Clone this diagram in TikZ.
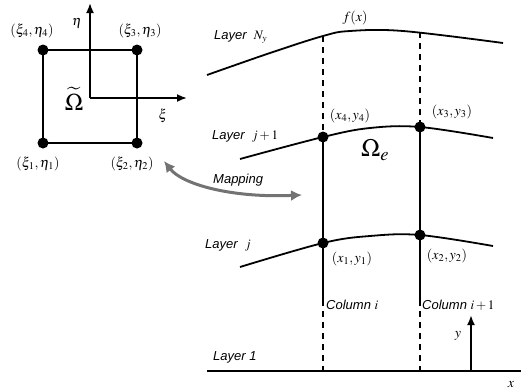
\documentclass[tikz,border=0pt]{standalone}
\usepackage{mathptmx}
\usepackage{fontspec}
\setsansfont{Liberation Sans}
\usetikzlibrary{arrows.meta}
\begin{document}
\begin{tikzpicture}[x=1pt,y=-1pt,
  curve/.style={line width=1.8pt},
  sq/.style={line width=1.4pt},
  dot/.style={circle,fill=black,inner sep=0pt,minimum size=11pt},
  lab/.style={font=\sffamily\itshape\fontsize{13}{13}\selectfont,inner sep=0pt,anchor=west},
  mlab/.style={font=\fontsize{14}{14}\selectfont,inner sep=0pt},
  axis/.style={line width=1.8pt,-{Latex[length=10pt,width=8pt]}},
  coldash/.style={line width=1.4pt,dash pattern=on 6pt off 5pt},
  colsolid/.style={line width=1.4pt}]
\useasboundingbox (0,0) rectangle (529,391);
% ---------- reference element ----------
\node[dot] (p1) at (43,143) {};
\node[dot] (p2) at (137,143) {};
\node[dot] (p3) at (137,50) {};
\node[dot] (p4) at (43,50) {};
\draw[sq] (p1.center) -- (p2.center) -- (p3.center) -- (p4.center) -- cycle;
\coordinate (o) at (90,98);
\coordinate (etaend) at (90,3);
\coordinate (xiend) at (187,98);
\draw[axis] (o) -- (etaend);
\draw[axis] (o) -- (xiend);
\node[mlab] (eta) at (77,23) {$\eta$};
\node[mlab] (xi) at (163,116) {$\xi$};
\node[font=\fontsize{24}{24}\selectfont,inner sep=0pt] (omt) at (74,99) {$\widetilde{\Omega}$};
\node[mlab] (l4) at (32,31) {$(\xi_4,\eta_4)$};
\node[mlab] (l3) at (140,31) {$(\xi_3,\eta_3)$};
\node[mlab] (l1) at (38,164) {$(\xi_1,\eta_1)$};
\node[mlab] (l2) at (132,164) {$(\xi_2,\eta_2)$};
% ---------- physical domain ----------
\draw[curve] plot[smooth,tension=0.6] coordinates {(207,75) (270,53) (323,36) (350,31) (403,31) (503,43)};
\draw[curve] plot[smooth,tension=0.6] coordinates {(240,159) (323,137) (370,128) (420,127) (493,138)};
\draw[curve] plot[smooth,tension=0.6] coordinates {(240,267) (323,243) (370,236) (420,235) (493,246)};
\coordinate (b0) at (207,371);
\coordinate (b1) at (521,371);
\draw[line width=1.8pt] (b0) -- (b1);
\node[dot] (q4) at (323,137) {};
\node[dot] (q3) at (420,127) {};
\node[dot] (q1) at (323,243) {};
\node[dot] (q2) at (420,235) {};
\coordinate (t1) at (323,36);
\coordinate (t2) at (420,32);
\coordinate (s1) at (323,300);
\coordinate (s2) at (420,300);
\coordinate (e1) at (323,371);
\coordinate (e2) at (420,371);
\draw[coldash] (t1) -- (q4.center);
\draw[coldash] (t2) -- (q3.center);
\draw[colsolid] (q4.center) -- (q1.center) -- (s1);
\draw[colsolid] (q3.center) -- (q2.center) -- (s2);
\draw[coldash] (s1) -- (e1);
\draw[coldash] (s2) -- (e2);
\node[mlab] (fx) at (355,18) {$f(x)$};
\node[mlab] (x4) at (350,116) {$(x_4,y_4)$};
\node[mlab] (x3) at (452,112) {$(x_3,y_3)$};
\node[mlab] (x1) at (352,259) {$(x_1,y_1)$};
\node[mlab] (x2) at (447,256) {$(x_2,y_2)$};
\node[font=\fontsize{25}{25}\selectfont,inner sep=0pt] (ome) at (375,150) {$\Omega_e$};
\node[lab] (LNy) at (214,37) {Layer \ $N_y$};
\node[lab] (Lj1) at (212,136) {Layer \ $j+1$};
\node[lab] (Lj) at (205,245) {Layer \ $j$};
\node[lab] (L1) at (213,357) {Layer 1};
\node[lab] (ci) at (326,305) {Column $i$};
\node[lab] (ci1) at (422,305) {Column $i+1$};
\node[lab] (map) at (213,180) {Mapping};
% y axis
\coordinate (ya) at (471,371);
\coordinate (yb) at (471,315);
\draw[axis,line width=2.2pt] (ya) -- (yb);
\node[mlab] (ylab) at (458,336) {$y$};
\node[mlab] (xlab) at (511,385) {$x$};
% mapping arrow
\coordinate (m1) at (164,161);
\coordinate (m2) at (302,195);
\draw[black!55,line width=3pt,{Latex[length=11pt,width=11pt]}-{Latex[length=11pt,width=11pt]}] (m1) .. controls (182,184) and (230,198) .. (m2);
\end{tikzpicture}
\end{document}
